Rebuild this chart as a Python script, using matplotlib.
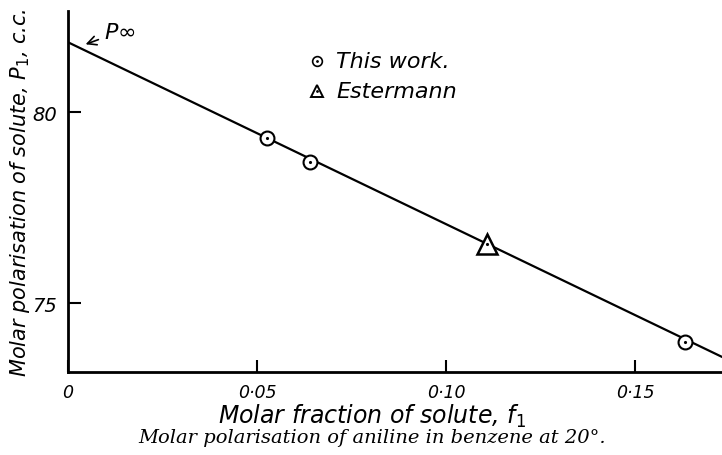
import matplotlib.pyplot as plt

# data
this_work_f = [0.0526, 0.064, 0.1632]
this_work_P = [79.32, 78.70, 73.98]
estermann_f = [0.1108]
estermann_P = [76.55]
fit_f = [0.0, 0.175]
fit_P = [81.83, 73.50]
p_inf = 81.83

xticks = [0.0, 0.05, 0.10, 0.15]
xtick_labels = ['0', '0·05', '0·10', '0·15']
yticks = [75, 80]
ytick_labels = ['75', '80']

fig = plt.figure(figsize=(7.22, 4.56), dpi=100)
ax = fig.add_axes([0.094, 0.182, 0.906, 0.792])

ax.plot(fit_f, fit_P, color='black', lw=1.6, zorder=2)

# open circles with a dot in the middle
ax.plot(this_work_f, this_work_P, 'o', ms=10, mfc='white', mec='black', mew=1.5, zorder=3)
ax.plot(this_work_f, this_work_P, '.', ms=2.5, color='black', zorder=4)
# open triangle with a dot
ax.plot(estermann_f, estermann_P, '^', ms=15, mfc='white', mec='black', mew=1.8, zorder=3)
ax.plot(estermann_f, estermann_P, '.', ms=2.5, color='black', zorder=4)

ax.set_xlim(0, 0.173)
ax.set_ylim(73.2, 82.65)
for s in ['top', 'right']:
    ax.spines[s].set_visible(False)
for s in ['left', 'bottom']:
    ax.spines[s].set_linewidth(2)

ax.set_xticks(xticks)
ax.set_xticklabels(xtick_labels, style='italic', fontsize=12.5)
ax.set_yticks(yticks)
ax.set_yticklabels(ytick_labels, style='italic', fontsize=14)
ax.tick_params(direction='in', length=9, width=1.5, pad=8)

ax.set_xlabel('Molar fraction of solute, $f_1$', style='italic', fontsize=17)
ax.xaxis.set_label_coords(0.465, -0.083)
ax.set_ylabel('Molar polarisation of solute, $P_1$, c.c.', style='italic', fontsize=15)
ax.yaxis.set_label_coords(-0.055, 0.5)

# legend drawn by hand
ax.plot([0.066], [81.35], 'o', ms=7, mfc='white', mec='black', mew=1.2, clip_on=False)
ax.plot([0.066], [81.35], '.', ms=2, color='black')
ax.plot([0.066], [80.55], '^', ms=9, mfc='white', mec='black', mew=1.4, clip_on=False)
ax.plot([0.066], [80.55], '.', ms=2, color='black')
ax.text(0.071, 81.35, 'This work.', style='italic', fontsize=16, va='center')
ax.text(0.071, 80.55, 'Estermann', style='italic', fontsize=16, va='center')

ax.annotate('$P\\infty$', xy=(0.004, p_inf - 0.08), xytext=(0.0095, 82.1),
            fontsize=16, va='center',
            arrowprops=dict(arrowstyle='->', color='black', lw=1.2))

fig.text(0.515, 0.04, 'Molar polarisation of aniline in benzene at 20°.',
         family='DejaVu Serif', style='italic', fontsize=14, ha='center', va='center')

fig.savefig('out.png', dpi=100)
